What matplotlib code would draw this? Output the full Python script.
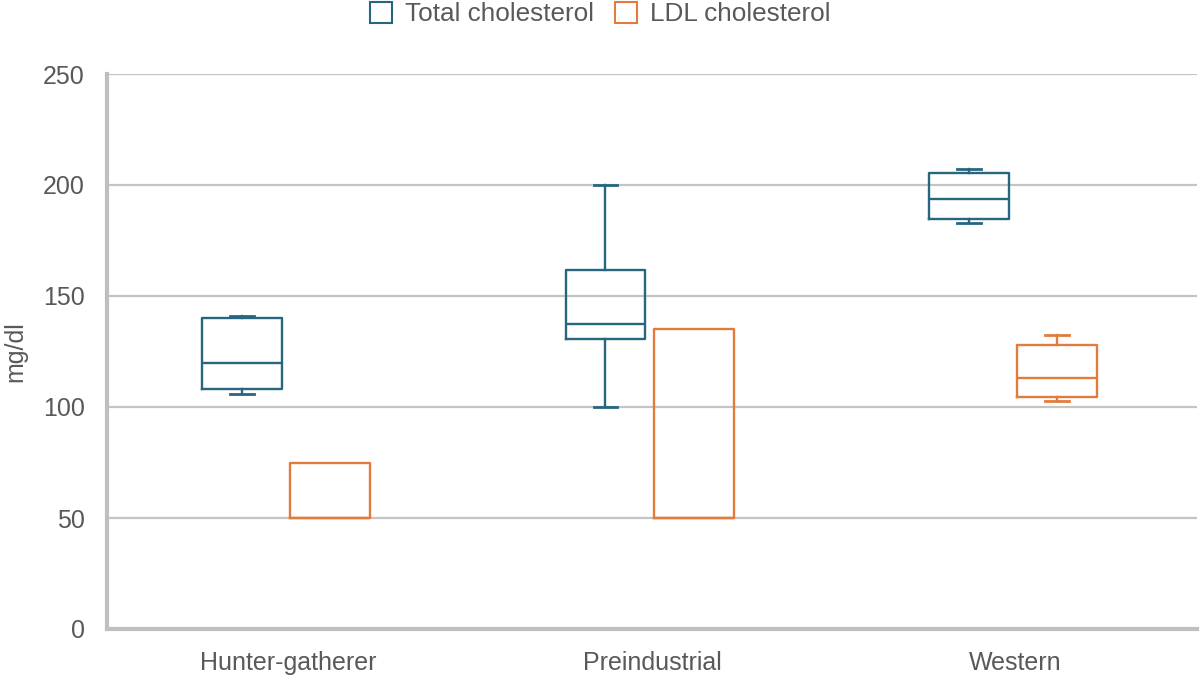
import matplotlib
matplotlib.use("Agg")
import matplotlib.pyplot as plt
from matplotlib.patches import Patch

plt.rcParams['font.family'] = ['Liberation Sans', 'DejaVu Sans']

categories = ["Hunter-gatherer", "Preindustrial", "Western"]

# Total cholesterol: whisker low, Q1, median, Q3, whisker high
tc_low = [106, 100, 183]
tc_q1 = [108, 130.5, 184.5]
tc_med = [119.7, 137.5, 193.8]
tc_q3 = [140, 161.7, 205.4]
tc_high = [141, 200, 207]

# LDL cholesterol
ldl_low = [50, 50, 102.6]
ldl_q1 = [50, 50, 104.4]
ldl_med = [50, 50, 113.2]
ldl_q3 = [75, 135, 127.8]
ldl_high = [75, 135, 132.4]

yticks = [0, 50, 100, 150, 200, 250]

tc_color = '#28667F'
ldl_color = '#E27B3C'
grid_color = '#C4C4C4'
text_color = '#595959'
fs = 18

fig = plt.figure(figsize=(12, 6.8), dpi=100)
ax = fig.add_axes([107/1200, 51/680, 1090/1200, 555/680])

def stats(low, q1, med, q3, high):
    return [dict(whislo=a, q1=b, med=c, q3=d, whishi=e, fliers=[])
            for a, b, c, d, e in zip(low, q1, med, q3, high)]

pos = list(range(len(categories)))
w = 0.22
for (low, q1, med, q3, high), off, col in [((tc_low, tc_q1, tc_med, tc_q3, tc_high), -0.128, tc_color),
                                            ((ldl_low, ldl_q1, ldl_med, ldl_q3, ldl_high), 0.115, ldl_color)]:
    st = stats(low, q1, med, q3, high)
    lp = dict(color=col, linewidth=1.7)
    res = ax.bxp(st, positions=[p + off for p in pos], widths=w, capwidths=0.066,
                 showfliers=False, patch_artist=False,
                 boxprops=lp, whiskerprops=lp, capprops=dict(color=col, linewidth=2.0),
                 medianprops=lp, manage_ticks=False, zorder=3)
    # hide whiskers/caps where there is no whisker extent
    for i in range(len(st)):
        if low[i] == q1[i]:
            res['caps'][2 * i].set_visible(False)
            res['whiskers'][2 * i].set_visible(False)
        if high[i] == q3[i]:
            res['caps'][2 * i + 1].set_visible(False)
            res['whiskers'][2 * i + 1].set_visible(False)

ax.set_xlim(-0.5, 2.5)
ax.set_ylim(0, 250)
ax.set_yticks(yticks)
ax.set_xticks(pos)
ax.set_xticklabels(categories)
ax.yaxis.grid(True, color=grid_color, linewidth=1.6, zorder=0)
ax.set_axisbelow(True)
for s in ['top', 'right']:
    ax.spines[s].set_visible(False)
for s in ['left', 'bottom']:
    ax.spines[s].set_color('#BFBFBF')
    ax.spines[s].set_linewidth(3)
ax.tick_params(axis='both', length=0, labelsize=fs, colors=text_color)
ax.tick_params(axis='x', pad=16)
ax.tick_params(axis='y', pad=16)
fig.text(15/1200, 1 - 352/680, "mg/dl", rotation=90, ha='center', va='center',
         fontsize=fs, color=text_color)

handles = [Patch(facecolor='white', edgecolor=tc_color, linewidth=1.5, label='Total cholesterol'),
           Patch(facecolor='white', edgecolor=ldl_color, linewidth=1.5, label='LDL cholesterol')]
leg = fig.legend(handles=handles, loc='center', bbox_to_anchor=(0.5, 1 - 14/680), ncol=2,
                 frameon=False, fontsize=18.8, handlelength=0.85, handleheight=0.85,
                 handletextpad=0.5, columnspacing=0.8, borderpad=0, borderaxespad=0)
for t in leg.get_texts():
    t.set_color(text_color)

fig.savefig("out.png", dpi=100)
